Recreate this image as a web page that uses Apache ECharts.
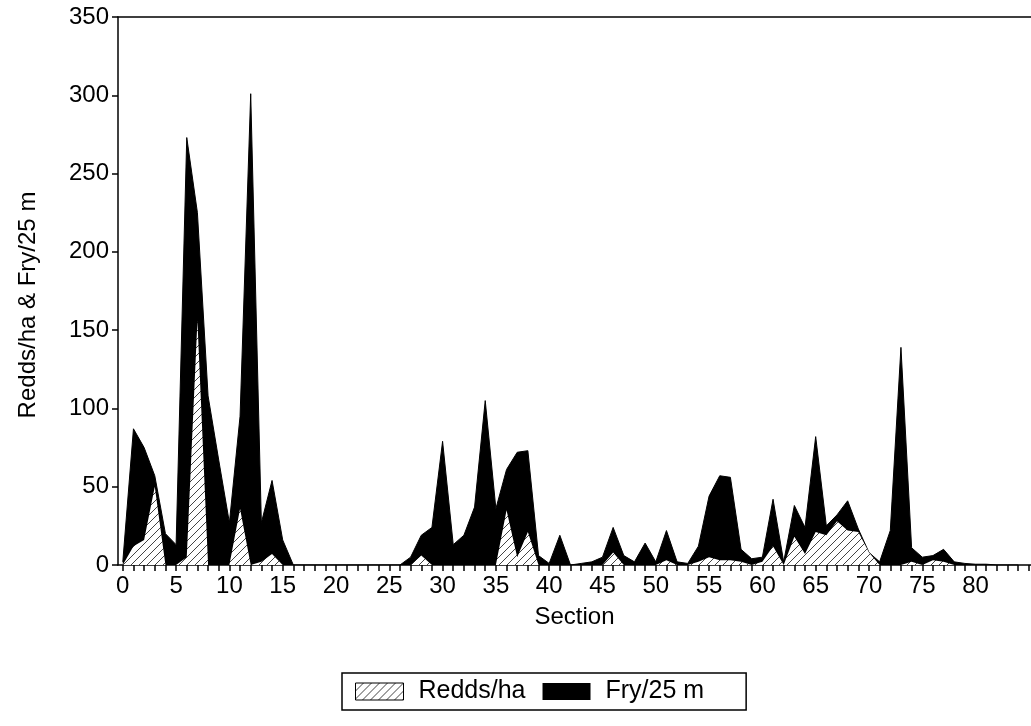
<!DOCTYPE html>
<html><head><meta charset="utf-8">
<script src="https://cdn.jsdelivr.net/npm/echarts@6/dist/echarts.min.js"></script>
<style>html,body{margin:0;padding:0;background:#fff}#c{width:1031px;height:726px}</style>
</head><body><div id="c"></div>
<script>
const sections = [0,1,2,3,4,5,6,7,8,9,10,11,12,13,14,15,16,17,18,19,20,21,22,23,24,25,26,27,28,29,30,31,32,33,34,35,36,37,38,39,40,41,42,43,44,45,46,47,48,49,50,51,52,53,54,55,56,57,58,59,60,61,62,63,64,65,66,67,68,69,70,71,72,73,74,75,76,77,78,79,80,81,82,83,84];
const fry = [2,87,75,57,20,13,273,225,108,67,27,95,301,27,54,16,0,0,0,0,0,0,0,0,0,0,0,5,19,24,79,13,19,37,105,36,61,72,73,6,1,19,0,1,2,5,24,6,2,14,2,22,2,1,12,44,57,56,10,4,5,42,2,38,24,82,25,32,41,23,8,2,22,139,11,5,6,10,2,1,0.5,0.5,0,0,0];
const redds = [0,12,16,50,0,0,5,156,0,0,0,36,0,2,7,0,0,0,0,0,0,0,0,0,0,0,0,0,6,0,0,0,0,0,0,0,35,5,21,0,0,0,0,0,0,0,8,0,0,0,0,3,0,0,2,5,3,3,2,0,2,12,0,18,7,21,19,28,22,21,8,0,0,0,2,0,3,2,0,0,0,0,0,0,0];
const xLabelValues = [0,5,10,15,20,25,30,35,40,45,50,55,60,65,70,75,80];
const xTickValues = [0,1,2,3,4,5,6,7,8,9,10,11,12,13,14,15,16,17,18,19,20,21,22,23,24,25,26,27,28,29,30,31,32,33,34,35,36,37,38,39,40,41,42,43,44,45,46,47,48,49,50,51,52,53,54,55,56,57,58,59,60,61,62,63,64,65,66,67,68,69,70,71,72,73,74,75,76,77,78,79,80,81,82,83,84,85];

function hatchCanvas(){
  const c = document.createElement('canvas');
  c.width = 8; c.height = 8;
  const g = c.getContext('2d');
  g.fillStyle = '#fff'; g.fillRect(0,0,8,8);
  g.strokeStyle = '#444'; g.lineWidth = 1;
  g.beginPath();
  g.moveTo(0,8); g.lineTo(8,0);
  g.moveTo(-1,1); g.lineTo(1,-1);
  g.moveTo(7,9); g.lineTo(9,7);
  g.stroke();
  return c;
}
const hatch = {image: hatchCanvas(), repeat: 'repeat'};
const FONT = 'Liberation Sans, Arial, sans-serif';
const fryData = sections.map((s,i)=>[s, fry[i]]);
const reddsData = sections.map((s,i)=>[s, redds[i]]);

const chart = echarts.init(document.getElementById('c'), null, {renderer:'canvas'});
chart.setOption({
  animation:false,
  backgroundColor:'#fff',
  textStyle:{fontFamily:FONT, color:'#000'},
  grid:{left:118, right:-2, top:17, bottom:161, show:false},
  legend:{
    left:342, top:673, orient:'horizontal',
    data:[
      {name:'Redds/ha', icon:'rect', itemStyle:{color:hatch, borderColor:'#000', borderWidth:1}},
      {name:'Fry/25 m', icon:'rect', itemStyle:{color:'#000'}}
    ],
    itemWidth:48, itemHeight:17, itemGap:17,
    borderColor:'#000', borderWidth:1.5, padding:[6,42,6,13],
    selectedMode:false,
    textStyle:{fontSize:25, color:'#000', fontFamily:FONT, padding:[0,0,0,10]}
  },
  xAxis:[{
    type:'value', min:-0.45, max:85.2,
    name:'Section', nameLocation:'middle', nameGap:40,
    nameTextStyle:{fontSize:24, color:'#000', fontFamily:FONT},
    axisLine:{show:true, onZero:false, lineStyle:{color:'#000', width:1.5}},
    axisTick:{show:true, customValues:xTickValues, length:6, lineStyle:{color:'#000', width:1.5}},
    axisLabel:{customValues:xLabelValues, fontSize:24, color:'#000', margin:9, fontFamily:FONT},
    splitLine:{show:false}
  },{
    type:'value', position:'top', min:-0.45, max:85.2,
    axisLine:{show:true, onZero:false, lineStyle:{color:'#000', width:1.5}},
    axisTick:{show:false}, axisLabel:{show:false}, splitLine:{show:false}
  }],
  yAxis:{
    type:'value', min:0, max:350, interval:50,
    name:'Redds/ha & Fry/25 m', nameLocation:'middle', nameGap:78,
    nameTextStyle:{fontSize:24, color:'#000', fontFamily:FONT, padding:[0,28,0,0]},
    axisLine:{show:true, onZero:false, lineStyle:{color:'#000', width:1.5}},
    axisTick:{show:true, length:6, lineStyle:{color:'#000', width:1.5}},
    axisLabel:{fontSize:24, color:'#000', margin:9, fontFamily:FONT},
    splitLine:{show:false}
  },
  series:[
    {name:'Fry/25 m', type:'line', xAxisIndex:0, data:fryData, symbol:'none', showSymbol:false,
     lineStyle:{color:'#000', width:1}, itemStyle:{color:'#000'},
     areaStyle:{color:'#000', opacity:1}, z:2, silent:true},
    {name:'Redds/ha', type:'line', xAxisIndex:0, data:reddsData, symbol:'none', showSymbol:false,
     lineStyle:{color:'#000', width:0}, itemStyle:{color:hatch},
     areaStyle:{color:hatch, opacity:1}, z:3, silent:true}
  ]
});
</script>
</body></html>
